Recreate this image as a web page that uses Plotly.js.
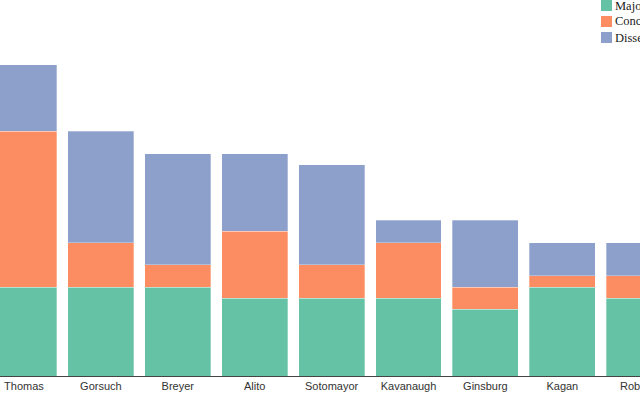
<!DOCTYPE html>
<html>
<head>
<meta charset="utf-8">
<script src="https://cdn.plot.ly/plotly-3.0.1.min.js"></script>
<style>html,body{margin:0;padding:0;background:#fff;}#chart{width:640px;height:400px;}</style>
</head>
<body>
<div id="chart"></div>
<script>
const justices = ["Thomas","Gorsuch","Breyer","Alito","Sotomayor","Kavanaugh","Ginsburg","Kagan","Roberts"];
const majority = [8, 8, 8, 7, 7, 7, 6, 8, 7];
const concurrence = [14, 4, 2, 6, 3, 5, 2, 1, 2];
const dissent = [6, 10, 10, 7, 9, 2, 6, 3, 3];
const seriesNames = ["Majority","Concurrence","Dissent"];
const seriesColors = ["#66c2a5","#fc8d62","#8da0cb"];

const seriesValues = [majority, concurrence, dissent];
const traces = seriesValues.map((vals, i) => ({
  type: "bar",
  name: seriesNames[i],
  x: justices,
  y: vals,
  marker: {color: seriesColors[i], line: {color: "rgba(255,255,255,0.6)", width: 0.5}},
  showlegend: false,
  hoverinfo: "x+y+name"
}));

// custom legend (paper coords)
const shapes = [];
const annotations = [];
const plotH = 376;
seriesNames.forEach((n, i) => {
  const top = 0 + i * 16;
  shapes.push({
    type: "rect", xref: "paper", yref: "paper",
    x0: 601/640, x1: 612/640,
    y0: 1 - (top + 11)/plotH, y1: 1 - top/plotH,
    fillcolor: seriesColors[i], line: {width: 0}
  });
  annotations.push({
    xref: "paper", yref: "paper",
    x: 613.5/640, y: 1 - (top + 5.5)/plotH,
    xanchor: "left", yanchor: "middle",
    text: n, showarrow: false, borderpad: 0,
    font: {family: "Liberation Serif, serif", size: 12.5, color: "#222"}
  });
});

const layout = {
  width: 640, height: 400,
  margin: {l: 0, r: 0, t: 0, b: 24, pad: 0},
  barmode: "stack",
  bargap: 0.143,
  paper_bgcolor: "#fff",
  plot_bgcolor: "#fff",
  showlegend: false,
  xaxis: {
    type: "category",
    range: [-0.312, 8.01],
    showgrid: false, zeroline: false,
    showline: true, linecolor: "#444", linewidth: 1,
    ticks: "", ticklen: 0,
    tickfont: {family: "Liberation Sans, Arial, sans-serif", size: 11, color: "#333"},
    fixedrange: true
  },
  yaxis: {
    range: [0, 33.8],
    showgrid: false, zeroline: false, showline: false,
    showticklabels: false, ticks: "",
    fixedrange: true
  },
  shapes: shapes,
  annotations: annotations
};

Plotly.newPlot("chart", traces, layout, {displayModeBar: false, staticPlot: true});
</script>
</body>
</html>
